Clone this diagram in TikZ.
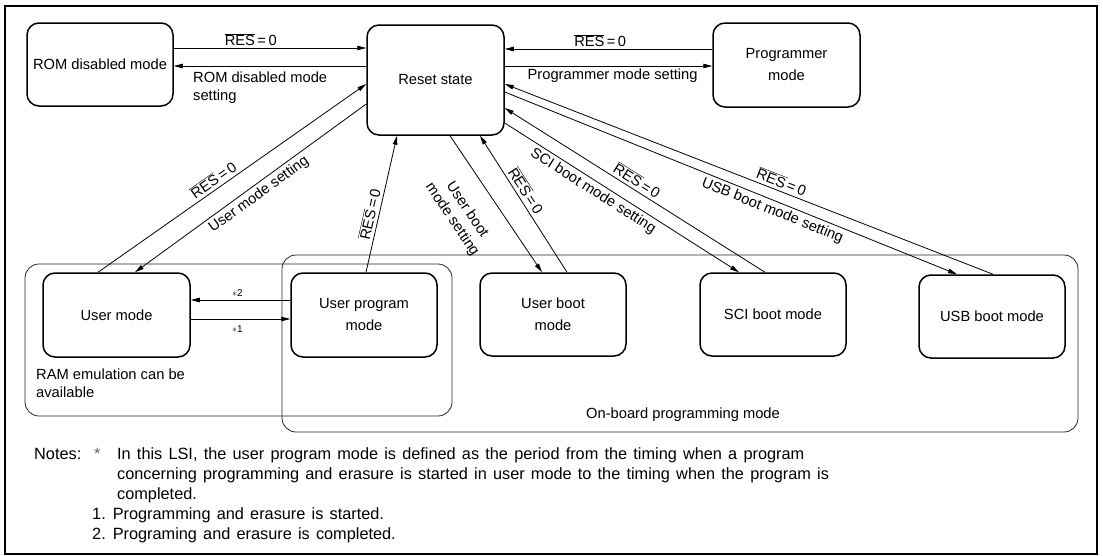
\documentclass[tikz,border=0pt]{standalone}
\usepackage{fontspec}
\setmainfont{Liberation Sans}
\usetikzlibrary{arrows.meta,positioning,calc}
\newcommand{\resz}{$\overline{\mbox{RES}}$\,=\,0}
\newcommand{\widesp}{\spaceskip=6.2pt\relax}
\tikzset{
  modebox/.style={rectangle, rounded corners=12pt, draw=black, line width=1.5pt,
                  minimum width=146pt, minimum height=84pt, inner sep=2pt,
                  align=center, font=\fontsize{14.7}{22}\selectfont},
  trans/.style ={-{Triangle[length=9pt,width=4.5pt]}, line width=0.8pt},
  rtrans/.style={{Triangle[length=9pt,width=4.5pt]}-, line width=0.8pt},
  grpbox/.style={rounded corners=14pt, line width=0.8pt, draw=black!85},
  lbl/.style={font=\fontsize{14.7}{18}\selectfont, inner sep=3pt},
  small/.style={font=\fontsize{10}{12}\selectfont, inner sep=1pt},
  notefont/.style={font=\fontsize{16.3}{20.7}\selectfont, inner sep=0pt,
                   execute at begin node=\widesp},
}
\begin{document}
\begin{tikzpicture}[x=1pt, y=-1pt]
  \useasboundingbox (0,0) rectangle (1103,555);
  \draw[line width=2pt] (5,6) rectangle (1097,554);
  % groups
  \draw[grpbox] (25,264) rectangle (452,416);
  \draw[grpbox] (282,255) rectangle (1078,432);
  % states
  \node[modebox, minimum width=146pt, minimum height=83pt] (rom) at (100,64.5) {ROM disabled mode};
  \node[modebox, minimum width=137pt, minimum height=110pt] (reset) at (435.5,80) {Reset state};
  \node[modebox, minimum width=147pt] (prog) at (786.5,65) {Programmer\\mode};
  \node[modebox, minimum width=147pt] (umode) at (116.5,315) {User mode};
  \node[modebox] (upm) at (364,315) {User program\\mode};
  \node[modebox, minimum height=83pt] (ub) at (553,314.5) {User boot\\mode};
  \node[modebox, minimum height=83pt] (sci) at (773,314.5) {SCI boot mode};
  \node[modebox, minimum height=83pt] (usb) at (992,316.5) {USB boot mode};
  % top row
  \draw[trans] ([yshift=16.5pt]rom.east) -- ([yshift=32pt]reset.west)
    node[pos=0.4, above, lbl, inner sep=2pt] {\resz};
  \draw[rtrans] ([yshift=-1.5pt]rom.east) -- ([yshift=14pt]reset.west);
  \node[lbl, anchor=north west, align=left, inner sep=0pt] (romset) at (193,72) {ROM disabled mode\\setting};
  \draw[rtrans] ([yshift=31pt]reset.east) -- ([yshift=16pt]prog.west)
    node[pos=0.46, above, lbl, inner sep=2pt] {\resz};
  \draw[trans] ([yshift=14pt]reset.east) -- ([yshift=-1pt]prog.west)
    node[pos=0.52, below, lbl, inner sep=2pt] {Programmer mode setting};
  % user mode
  \draw[trans] ([xshift=-18.5pt]umode.north) -- ([yshift=-4pt]reset.west)
    node[pos=0.45, sloped, above, lbl] {\resz};
  \draw[rtrans] ([xshift=18.5pt]umode.north) -- ([yshift=-24pt]reset.west)
    node[pos=0.51, sloped, below, lbl] {User mode setting};
  \draw[trans] ([xshift=2pt]upm.north) -- ([xshift=-38.5pt]reset.south)
    node[pos=0.41, sloped, above, lbl] {\resz};
  \draw[rtrans] ([yshift=15pt]umode.east) -- ([yshift=15pt]upm.west)
    node[pos=0.47, above=2pt, small] {$\ast$2};
  \draw[trans] ([yshift=-4pt]umode.east) -- ([yshift=-4pt]upm.west)
    node[pos=0.47, below=5pt, small] {$\ast$1};
  % boot modes
  \draw[trans] ([xshift=14.5pt]reset.south) -- ([xshift=-11pt]ub.north)
    node[pos=0.43, sloped, below=20pt, lbl, inner sep=0pt, align=center] {User boot\\mode setting};
  \draw[rtrans] ([xshift=44.5pt]reset.south) -- ([xshift=14pt]ub.north)
    node[pos=0.44, sloped, above, lbl] {\resz};
  \draw[trans] ([yshift=-43pt]reset.east) -- ([xshift=-34pt]sci.north)
    node[pos=0.4, sloped, below, lbl] {SCI boot mode setting};
  \draw[rtrans] ([yshift=-28pt]reset.east) -- ([xshift=-8pt]sci.north)
    node[pos=0.49, sloped, above, lbl] {\resz};
  \draw[trans] ([yshift=-12pt]reset.east) -- ([xshift=-35pt]usb.north)
    node[pos=0.6, sloped, below, lbl] {USB boot mode setting};
  \draw[rtrans] ([yshift=-4pt]reset.east) -- ([xshift=1pt]usb.north)
    node[pos=0.56, sloped, above, lbl] {\resz};
  % group labels
  \node[lbl, anchor=north west, align=left, inner sep=0pt] (ramnote) at (36,369) {RAM emulation can be\\available};
  \node[lbl] (obpm) at (683,415) {On-board programming mode};
  % notes
  \node[notefont, anchor=base west] (notes) at (34,459) {Notes:};
  \node[notefont, anchor=base west, black!60] (nstar) at (94,459) {*};
  \foreach \txt [count=\k from 0] in {{In this LSI, the user program mode is defined as the period from the timing when a program},
      {concerning programming and erasure is started in user mode to the timing when the program is},
      {completed.}}
    \node[notefont, anchor=base west] (nline\k) at (117,459+20.2*\k) {\txt};
  \foreach \n/\txt [count=\k from 3] in {1/Programming and erasure is started., 2/Programing and erasure is completed.}
    \node[notefont, anchor=base west] (nitem\n) at (92,459+20.2*\k) {\n.\hspace{7pt}\txt};
\end{tikzpicture}
\end{document}
